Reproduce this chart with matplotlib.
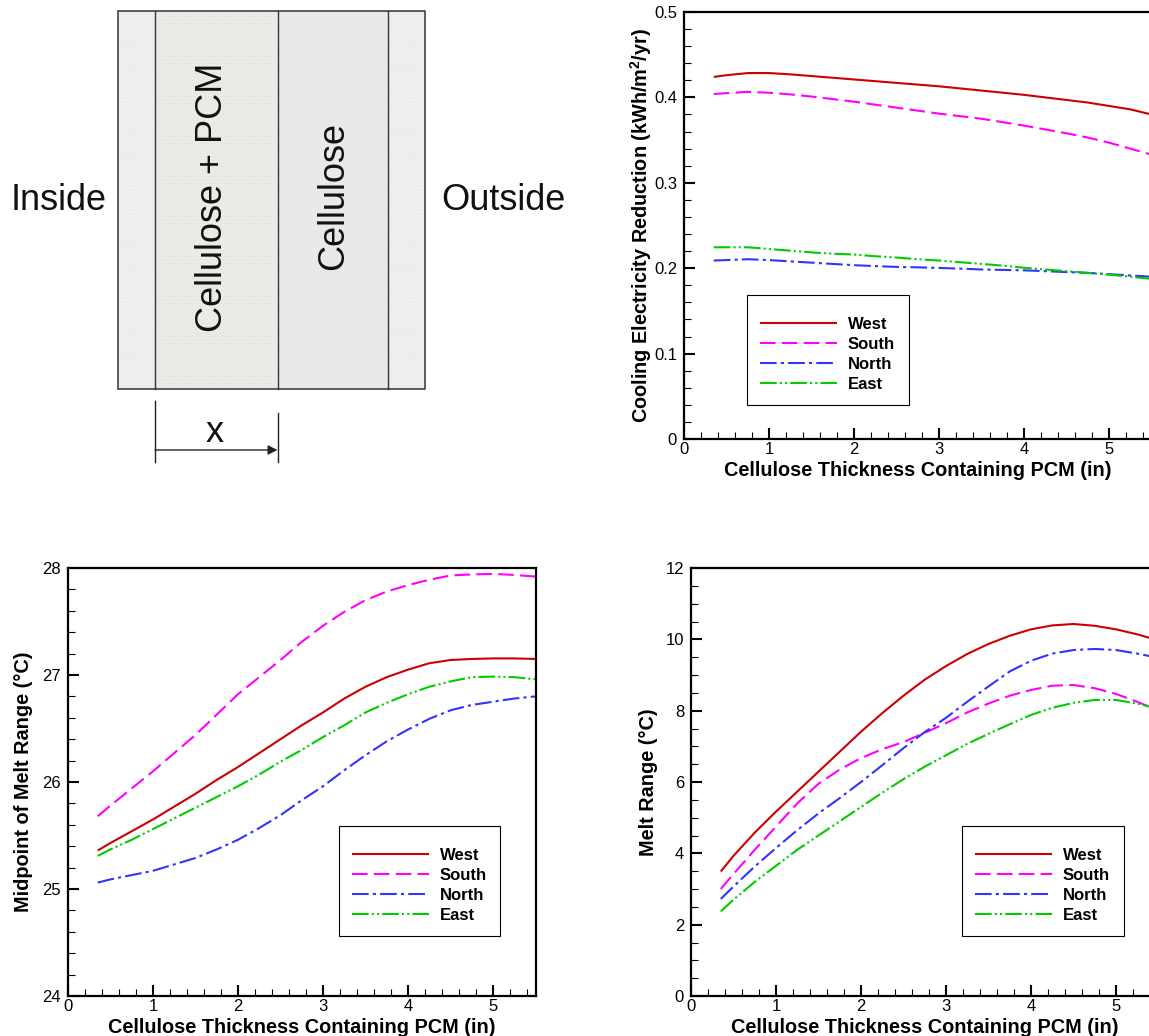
import matplotlib
matplotlib.use("Agg")
import matplotlib.pyplot as plt
from matplotlib.patches import Rectangle
from matplotlib.ticker import MultipleLocator
from matplotlib.transforms import blended_transform_factory

plt.rcParams['font.family'] = ['Liberation Sans', 'DejaVu Sans']
plt.rcParams['hatch.linewidth'] = 0.4
plt.rcParams['mathtext.fontset'] = 'custom'
plt.rcParams['mathtext.bf'] = 'Liberation Sans:bold'
plt.rcParams['mathtext.rm'] = 'Liberation Sans'

W, H = 1149, 1036
x_vals = [0.35, 0.5, 0.75, 1, 1.25, 1.5, 1.75, 2, 2.25, 2.5, 2.75, 3, 3.25, 3.5, 3.75, 4, 4.25, 4.5, 4.75, 5, 5.25, 5.5]
names = ['West', 'South', 'North', 'East']
colors = ['#cc0000', '#ff00ff', '#3333ff', '#00cc00']
dashes = [None, (0, (7.5, 3)), (0, (8, 2, 1.5, 2)), (0, (8, 1.5, 1, 1.5, 1, 1.5))]

cool_west = [.424, .426, .4285, .4285, .427, .425, .423, .421, .419, .417, .415, .413, .4105, .408, .4055, .403, .400, .397, .394, .390, .386, .380]
cool_south = [.404, .405, .4065, .4055, .4035, .401, .398, .395, .3915, .388, .3845, .381, .378, .375, .371, .367, .3625, .358, .353, .347, .340, .333]
cool_north = [.209, .2095, .2105, .2095, .208, .2065, .205, .2035, .2025, .2015, .201, .2003, .1995, .1985, .198, .1975, .1965, .1955, .1945, .193, .1915, .190]
cool_east = [.2245, .2245, .2245, .2225, .2205, .2185, .217, .216, .214, .2125, .2105, .209, .207, .205, .203, .2005, .1985, .1965, .1945, .1925, .190, .1875]

mid_west = [25.36, 25.43, 25.54, 25.65, 25.77, 25.89, 26.02, 26.14, 26.27, 26.40, 26.53, 26.65, 26.78, 26.89, 26.98, 27.05, 27.11, 27.14, 27.15, 27.155, 27.155, 27.15]
mid_south = [25.68, 25.78, 25.94, 26.1, 26.27, 26.44, 26.63, 26.82, 26.98, 27.14, 27.31, 27.46, 27.59, 27.70, 27.78, 27.84, 27.89, 27.93, 27.94, 27.945, 27.935, 27.92]
mid_north = [25.06, 25.09, 25.13, 25.17, 25.23, 25.29, 25.37, 25.46, 25.57, 25.69, 25.83, 25.96, 26.11, 26.25, 26.38, 26.49, 26.59, 26.67, 26.72, 26.75, 26.78, 26.80]
mid_east = [25.31, 25.37, 25.46, 25.56, 25.66, 25.76, 25.86, 25.96, 26.07, 26.19, 26.30, 26.42, 26.53, 26.65, 26.74, 26.82, 26.89, 26.94, 26.98, 26.985, 26.98, 26.96]

range_west = [3.49, 3.93, 4.58, 5.17, 5.73, 6.29, 6.85, 7.41, 7.93, 8.42, 8.87, 9.25, 9.59, 9.87, 10.1, 10.28, 10.39, 10.43, 10.38, 10.28, 10.14, 9.97]
range_south = [3.0, 3.42, 4.1, 4.75, 5.4, 5.95, 6.35, 6.67, 6.92, 7.12, 7.38, 7.65, 7.95, 8.2, 8.42, 8.58, 8.7, 8.72, 8.63, 8.47, 8.25, 8.0]
range_north = [2.72, 3.07, 3.63, 4.15, 4.65, 5.12, 5.55, 6.0, 6.47, 6.95, 7.4, 7.8, 8.25, 8.68, 9.1, 9.4, 9.6, 9.7, 9.73, 9.7, 9.6, 9.48]
range_east = [2.37, 2.7, 3.2, 3.65, 4.1, 4.5, 4.9, 5.3, 5.7, 6.08, 6.43, 6.75, 7.07, 7.35, 7.62, 7.88, 8.08, 8.22, 8.3, 8.3, 8.2, 8.05]

fig = plt.figure(figsize=(W / 100, H / 100), dpi=100)


def make_axes(left, top, bottom, series, ylim, major, minor, ylabel, ylabel_x, legend_box, ylabels=None):
    right = left + 5.5 * 85
    ax = fig.add_axes([left / W, 1 - bottom / H, (right - left) / W, (bottom - top) / H])
    for s, name, c, d in zip(series, names, colors, dashes):
        if d is None:
            ax.plot(x_vals, s, color=c, lw=1.5, label=name, solid_capstyle='butt')
        else:
            ax.plot(x_vals, s, color=c, lw=1.5, label=name, linestyle=d, dash_capstyle='butt')
    ax.set_xlim(0, 5.5)
    ax.set_ylim(*ylim)
    ax.xaxis.set_major_locator(MultipleLocator(1))
    ax.xaxis.set_minor_locator(MultipleLocator(0.2))
    ax.yaxis.set_major_locator(MultipleLocator(major))
    ax.yaxis.set_minor_locator(MultipleLocator(minor))
    ax.tick_params(which='major', direction='in', length=8, width=1.5, labelsize=12)
    ax.tick_params(which='minor', direction='in', length=5, width=0.8)
    ax.tick_params(axis='x', which='major', pad=2.5)
    ax.tick_params(axis='y', which='major', pad=5)
    if ylabels:
        ax.set_yticks(ylabels[0])
        ax.set_yticklabels(ylabels[1])
    for sp in ax.spines.values():
        sp.set_linewidth(1.6)
    ax.set_xlabel('Cellulose Thickness Containing PCM (in)', fontsize=14.3, fontweight='bold', labelpad=2.5)
    ax.set_ylabel(ylabel, fontsize=14.3, fontweight='bold', va='center')
    ax.yaxis.set_label_coords(ylabel_x / W, 0.5, transform=blended_transform_factory(fig.transFigure, ax.transAxes))
    lx0, ly0, lx1, ly1 = legend_box
    fig.add_artist(Rectangle((lx0 / W, 1 - ly1 / H), (lx1 - lx0) / W, (ly1 - ly0) / H, fill=False,
                             edgecolor='black', lw=0.8, transform=fig.transFigure))
    ax.legend(loc='upper left', bbox_to_anchor=((lx0 + 13) / W, 1 - (ly0 + 22) / H),
              bbox_transform=fig.transFigure, borderaxespad=0, frameon=False,
              prop={'size': 12, 'weight': 'bold'}, handlelength=4.62, handletextpad=0.66,
              labelspacing=0.3, borderpad=0)
    return ax


make_axes(684, 12, 439, [cool_west, cool_south, cool_north, cool_east], (0, 0.5), 0.1, 0.02,
          'Cooling Electricity Reduction (kWh/m$\\mathbf{^2}$/yr)', 641, (747, 295, 909, 405),
          ([0, .1, .2, .3, .4, .5], ['0', '0.1', '0.2', '0.3', '0.4', '0.5']))
make_axes(68, 568, 996, [mid_west, mid_south, mid_north, mid_east], (24, 28), 1, 0.2,
          'Midpoint of Melt Range (°C)', 24, (339, 826, 500, 936))
make_axes(691, 568, 996, [range_west, range_south, range_north, range_east], (0, 12), 2, 0.5,
          'Melt Range (°C)', 648, (962, 826, 1124, 936))

# Wall section diagram, drawn in pixel coordinates of the figure
d = fig.add_axes([0, 0, 1, 1], zorder=-1)
d.set_xlim(0, W)
d.set_ylim(H, 0)
d.axis('off')
layer_edges = [118, 155, 277.5, 388, 425]
layer_fill = ['#f1f1f1', '#ebebe7', '#e9e9e9', '#f1f1f1']
layer_hatch = ['.......', '.....', None, '.......']
box_top, box_bottom = 10.5, 388.5
for i in range(4):
    d.add_patch(Rectangle((layer_edges[i], box_top), layer_edges[i + 1] - layer_edges[i], box_bottom - box_top,
                          facecolor=layer_fill[i], edgecolor='#e0e0dc' if layer_hatch[i] else 'none',
                          hatch=layer_hatch[i], lw=0))
d.add_patch(Rectangle((118, box_top), 307, box_bottom - box_top, fill=False, edgecolor='#333333', lw=1.1))
for xv in layer_edges[1:4]:
    d.plot([xv, xv], [box_top, box_bottom], color='#333333', lw=1.0)
d.text(59, 200, 'Inside', fontsize=26, ha='center', va='center', color='#111111')
d.text(503, 200, 'Outside', fontsize=26, ha='center', va='center', color='#111111')
d.text(213, 197, 'Cellulose + PCM', fontsize=26, rotation=90, ha='center', va='center', color='#111111')
d.text(334, 196, 'Cellulose', fontsize=26, rotation=90, ha='center', va='center', color='#111111')
d.plot([155, 155], [401, 462], color='#222222', lw=1.0)
d.plot([277.5, 277.5], [413, 462], color='#222222', lw=1.0)
d.annotate('', xy=(277.5, 450), xytext=(155, 450),
           arrowprops=dict(arrowstyle='-|>', color='#222222', lw=1.0, mutation_scale=14, shrinkA=0, shrinkB=0))
d.text(215, 432, 'x', fontsize=26, ha='center', va='center', color='#111111')

fig.savefig('out.png', dpi=100)
